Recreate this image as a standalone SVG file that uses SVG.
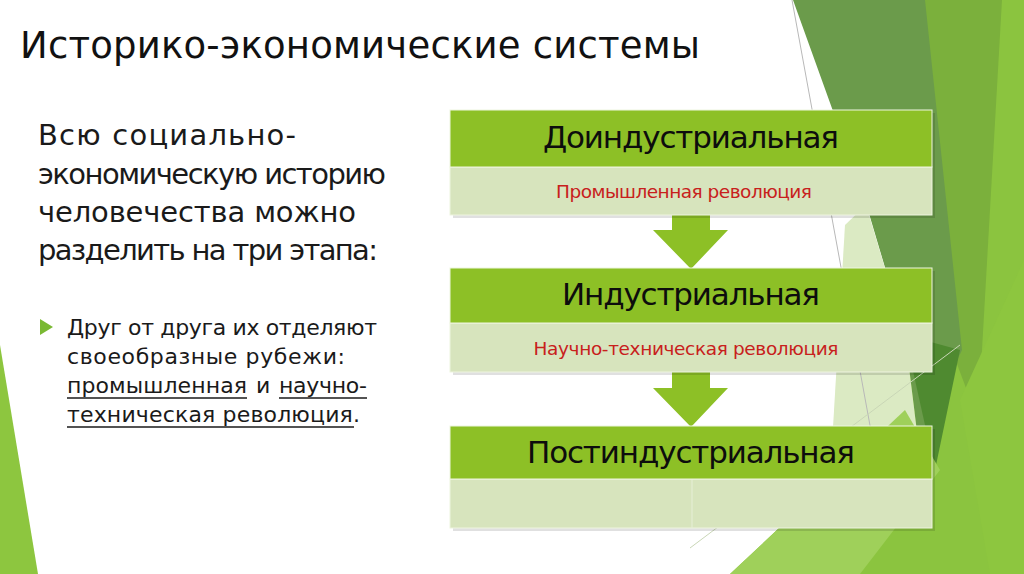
<svg xmlns="http://www.w3.org/2000/svg" width="1024" height="574" viewBox="0 0 1024 574">
  <defs>
    <style>
      .ttl { font-family: "DejaVu Sans", "Open Sans", sans-serif; font-size: 37px; fill: #111; }
      .body { font-family: "DejaVu Sans", "Open Sans", sans-serif; font-size: 29px; fill: #1a1a1a; }
      .bul { font-family: "DejaVu Sans", "Open Sans", sans-serif; font-size: 22px; fill: #1a1a1a; }
      .hdr { font-family: "DejaVu Sans", "Open Sans", sans-serif; font-size: 31px; fill: #0d0d0d; text-anchor: middle; }
      .sub { font-family: "DejaVu Sans", "Open Sans", sans-serif; font-size: 18.5px; fill: #c8201c; text-anchor: middle; }
      .head { fill: #8dc026; stroke: #eef5df; stroke-width: 1; }
      .light { fill: #d7e4bd; stroke: #eef5df; stroke-width: 1; }
      .shadow { fill: #000; opacity: 0.12; }
      .arrow { fill: #8dc026; }
      .uline { stroke: #1a1a1a; stroke-width: 1.5; }
    </style>
  </defs>
  <rect width="1024" height="574" fill="#ffffff"/>

  <!-- background decoration -->
  <g id="background">
    <polygon points="0,345 38,574 0,574" fill="#8dc63f"/>
    <polygon points="935,0 1024,0 1024,574 730,574 905,410" fill="#8bc43f"/>
    <polygon points="918,0 1002,0 978,420 948,340" fill="#7bb03c"/>
    <polygon points="793,0 925,0 962,350 918,440 905,335 865,200" fill="#6b9b4b"/>
    <polygon points="905,335 960,350 935,470" fill="#4f8a30"/>
    <polygon points="845,225 866,205 905,335 918,440 880,470 830,478" fill="#dbeac3"/>
    <polygon points="730,574 905,410 940,470 860,574" fill="#9fd05a"/>
    <polygon points="960,400 1024,260 1024,574 990,574" fill="#8dc63f"/>
    <line x1="792" y1="0" x2="880" y2="480" stroke="#b8b8b8" stroke-width="1"/>
    <line x1="690" y1="548" x2="960" y2="345" stroke="#c9d6b6" stroke-width="1"/>
  </g>

  <!-- title -->
  <text class="ttl" x="20" y="58" textLength="680">Историко-экономические системы</text>

  <!-- left text -->
  <g id="intro">
    <text class="body" x="38" y="145" textLength="258">Всю социально-</text>
    <text class="body" x="38" y="184" textLength="348">экономическую историю</text>
    <text class="body" x="38" y="222" textLength="318">человечества можно</text>
    <text class="body" x="38" y="260" textLength="340">разделить на три этапа:</text>
  </g>

  <g id="bullet">
    <polygon points="40,319 53,327 40,335" fill="#7ab933"/>
    <text class="bul" x="67" y="335" textLength="310">Друг от друга их отделяют</text>
    <text class="bul" x="67" y="364" textLength="278">своеобразные рубежи:</text>
    <text class="bul" x="67" y="393" textLength="180">промышленная</text>
    <text class="bul" x="256" y="393">и</text>
    <text class="bul" x="279" y="393" textLength="88">научно-</text>
    <text class="bul" x="67" y="422" textLength="293">техническая революция.</text>
    <line class="uline" x1="67" y1="398" x2="247" y2="398"/>
    <line class="uline" x1="279" y1="398" x2="367" y2="398"/>
    <line class="uline" x1="67" y1="427" x2="354" y2="427"/>
  </g>

  <!-- connectors -->
  <g id="connectors">
    <polygon class="arrow" points="672,215 710,215 710,230 728,230 691,269 653,230 672,230"/>
    <polygon class="arrow" points="672,372 710,372 710,388 728,388 691,427 653,388 672,388"/>
  </g>

  <!-- nodes -->
  <g id="node-preindustrial">
    <rect class="shadow" x="453" y="113" width="482" height="105"/>
    <rect class="light" x="450" y="167" width="482" height="48"/>
    <rect class="head" x="450" y="110" width="482" height="57"/>
    <text class="hdr" x="691" y="148" textLength="296">Доиндустриальная</text>
    <text class="sub" x="684" y="198" textLength="256">Промышленная революция</text>
  </g>

  <g id="node-industrial">
    <rect class="shadow" x="453" y="271" width="482" height="104"/>
    <rect class="light" x="450" y="323" width="482" height="49"/>
    <rect class="head" x="450" y="268" width="482" height="55"/>
    <text class="hdr" x="691" y="305" textLength="258">Индустриальная</text>
    <text class="sub" x="686" y="355" textLength="305">Научно-техническая революция</text>
  </g>

  <g id="node-postindustrial">
    <rect class="shadow" x="453" y="429" width="482" height="102"/>
    <rect class="light" x="450" y="479" width="482" height="49"/>
    <line x1="692" y1="479" x2="692" y2="528" stroke="#e6efd6" stroke-width="1"/>
    <rect class="head" x="450" y="426" width="482" height="53"/>
    <text class="hdr" x="691" y="463" textLength="328">Постиндустриальная</text>
  </g>
</svg>
